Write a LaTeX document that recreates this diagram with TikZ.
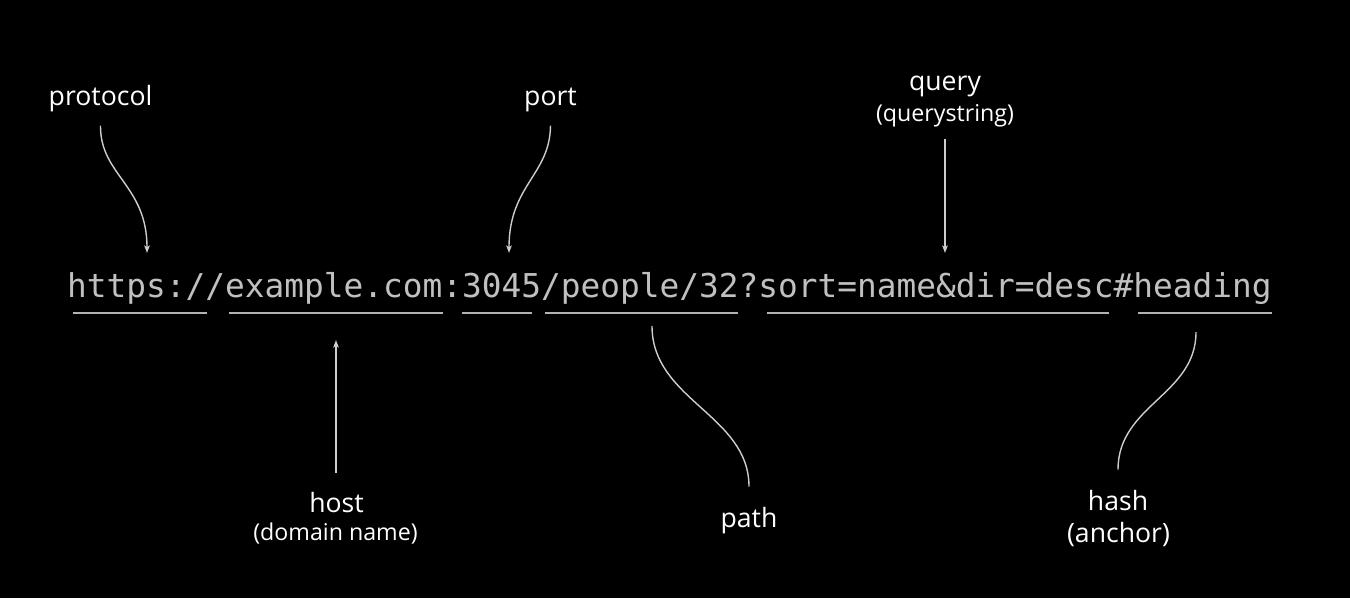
\documentclass[tikz,border=0pt]{standalone}
\usepackage{fontspec}
\setmainfont{Open Sans}
\newfontfamily\urlfont{DejaVu Sans Mono}
\usetikzlibrary{arrows.meta}
\definecolor{urlgray}{RGB}{192,192,192}
\definecolor{linegray}{RGB}{178,178,178}
\definecolor{conngray}{RGB}{205,205,205}
\begin{document}
\begin{tikzpicture}[x=1pt,y=-1pt,
  lbl/.style={text=white, inner sep=0pt, anchor=base, font=\fontsize{26.6}{30}\selectfont},
  sublbl/.style={lbl, font=\fontsize{23.2}{27}\selectfont},
  uline/.style={draw=linegray, line width=2pt},
  conn/.style={draw=conngray, line width=1.4pt},
  arr/.style={conn, -{Stealth[length=7.5pt,width=5.5pt,inset=1.5pt]}}]
\fill[black] (0,0) rectangle (1350,598);
\useasboundingbox (0,0) rectangle (1350,598);

% URL
\node[anchor=base west, inner sep=0pt, text=urlgray,
      font=\urlfont\fontsize{32.8}{36}\selectfont] (url) at (67,297)
  {https://example.com:3045/people/32?sort=name\&dir=desc\#heading};

% underlines
\draw[uline] (73,313) -- (207,313);
\draw[uline] (229,313) -- (443,313);
\draw[uline] (462,313) -- (532,313);
\draw[uline] (545,313) -- (738,313);
\draw[uline] (767,313) -- (1109,313);
\draw[uline] (1138,313) -- (1272,313);

% labels
\node[lbl] (protocol) at (100.5,105) {protocol};
\node[lbl] (port) at (550.5,105) {port};
\node[lbl] (query) at (945,90) {query};
\node[sublbl] (querystring) at (945,121) {(querystring)};
\node[lbl] (host) at (336.5,512) {host};
\node[sublbl] (domain) at (335.5,540) {(domain name)};
\node[lbl] (path) at (749,527) {path};
\node[lbl] (hash) at (1118,510) {hash};
\node[lbl] (anchor) at (1118.5,542) {(anchor)};

% connector end points
\coordinate (protoEnd) at (147,253);
\coordinate (portEnd) at (509,253);
\coordinate (queryEnd) at (945,253);
\coordinate (hostEnd) at (336,340);
\coordinate (pathTop) at (652,326);
\coordinate (hashTop) at (1196,332);

% connectors
\draw[arr] ([yshift=-14pt]protocol.south) .. controls (100,175) and (147,185) .. (protoEnd);
\draw[arr] ([yshift=-14pt]port.south) .. controls (550,175) and (509,185) .. (portEnd);
\draw[arr] ([yshift=-12.5pt]querystring.south) -- (queryEnd);
\draw[arr] ([yshift=19pt]host.north -| hostEnd) -- (hostEnd);
\draw[conn] (pathTop) .. controls (652,400) and (749,415) .. ([yshift=20pt]path.north);
\draw[conn] (hashTop) .. controls (1196,395) and (1118,405) .. ([yshift=20pt]hash.north);
\end{tikzpicture}
\end{document}
